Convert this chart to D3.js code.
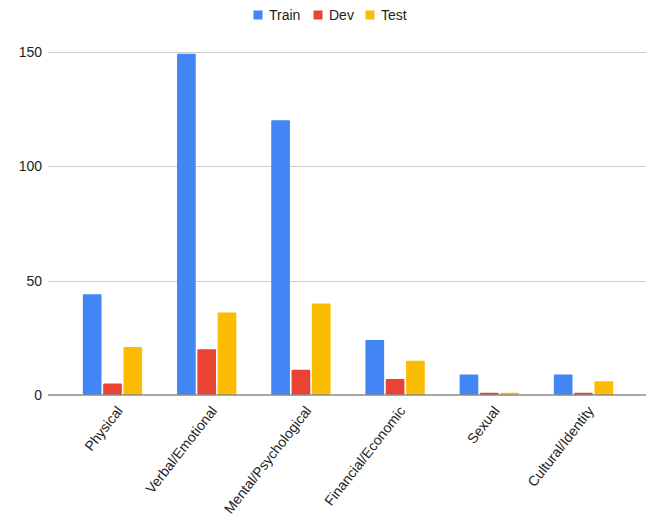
<!DOCTYPE html>
<html>
<head>
<meta charset="utf-8">
<script src="https://cdn.jsdelivr.net/npm/d3@7"></script>
<style>
  body { margin: 0; background: #fff; }
  text { font-family: "Liberation Sans", Arial, sans-serif; }
</style>
</head>
<body>
<div id="chart"></div>
<script>
var width = 649;
var height = 522;

var categories = ['Physical', 'Verbal/Emotional', 'Mental/Psychological', 'Financial/Economic', 'Sexual', 'Cultural/Identity'];
var seriesNames = ['Train', 'Dev', 'Test'];
var train = [44, 149, 120, 24, 9, 9];
var dev = [5, 20, 11, 7, 1, 1];
var test = [21, 36, 40, 15, 1, 6];
var yTicks = [0, 50, 100, 150];
var colors = ['#4285F4', '#EA4335', '#FBBC04'];

var series = [train, dev, test];

var svg = d3.select('#chart')
  .append('svg')
  .attr('width', width)
  .attr('height', height);

var x = d3.scaleBand()
  .domain(categories)
  .range([65.4, 630.6])
  .paddingInner(0.37)
  .paddingOuter(0.185);

var xInner = d3.scaleBand()
  .domain(seriesNames)
  .range([0, x.bandwidth()])
  .paddingInner(0.08);

var y = d3.scaleLinear()
  .domain([0, 150])
  .range([395, 51.5]);

// gridlines
svg.append('g')
  .selectAll('line')
  .data(yTicks.slice(1))
  .enter()
  .append('line')
  .attr('x1', 48)
  .attr('x2', 646)
  .attr('y1', function(d) { return Math.round(y(d)) + 0.5; })
  .attr('y2', function(d) { return Math.round(y(d)) + 0.5; })
  .style('stroke', '#cccccc')
  .style('stroke-width', 1);

// y labels
svg.append('g')
  .selectAll('text')
  .data(yTicks)
  .enter()
  .append('text')
  .attr('x', 42)
  .attr('y', function(d) { return y(d) + 5; })
  .attr('text-anchor', 'end')
  .style('font-size', '14px')
  .style('fill', '#222')
  .text(function(d) { return d; });

// bars
var groups = svg.append('g')
  .selectAll('g')
  .data(categories)
  .enter()
  .append('g')
  .attr('transform', function(d) { return 'translate(' + x(d) + ',0)'; });

groups.selectAll('rect')
  .data(function(d, i) {
    return seriesNames.map(function(s, j) {
      return { name: s, value: series[j][i], color: colors[j] };
    });
  })
  .enter()
  .append('rect')
  .attr('x', function(d) { return xInner(d.name); })
  .attr('y', function(d) { return y(d.value); })
  .attr('width', xInner.bandwidth())
  .attr('height', function(d) { return y(0) - y(d.value); })
  .attr('rx', 1)
  .style('fill', function(d) { return d.color; });

// baseline
svg.append('line')
  .attr('x1', 48)
  .attr('x2', 646)
  .attr('y1', 395)
  .attr('y2', 395)
  .style('stroke', '#8a8a8a')
  .style('stroke-width', 1.5);

// x labels
svg.append('g')
  .selectAll('text')
  .data(categories)
  .enter()
  .append('text')
  .attr('text-anchor', 'end')
  .attr('transform', function(d) {
    return 'translate(' + (x(d) + x.bandwidth() / 2 + 11) + ',411) rotate(-52)';
  })
  .style('font-size', '14px')
  .style('fill', '#222')
  .text(function(d) { return d; });

// legend
var legendX = [253.5, 313.5, 365.5];
var legend = svg.append('g')
  .selectAll('g')
  .data(seriesNames)
  .enter()
  .append('g')
  .attr('transform', function(d, i) { return 'translate(' + legendX[i] + ',10.5)'; });

legend.append('rect')
  .attr('width', 9)
  .attr('height', 9)
  .style('fill', function(d, i) { return colors[i]; });

legend.append('text')
  .attr('x', 15.5)
  .attr('y', 9.5)
  .style('font-size', '14px')
  .style('fill', '#222')
  .text(function(d) { return d; });
</script>
</body>
</html>
